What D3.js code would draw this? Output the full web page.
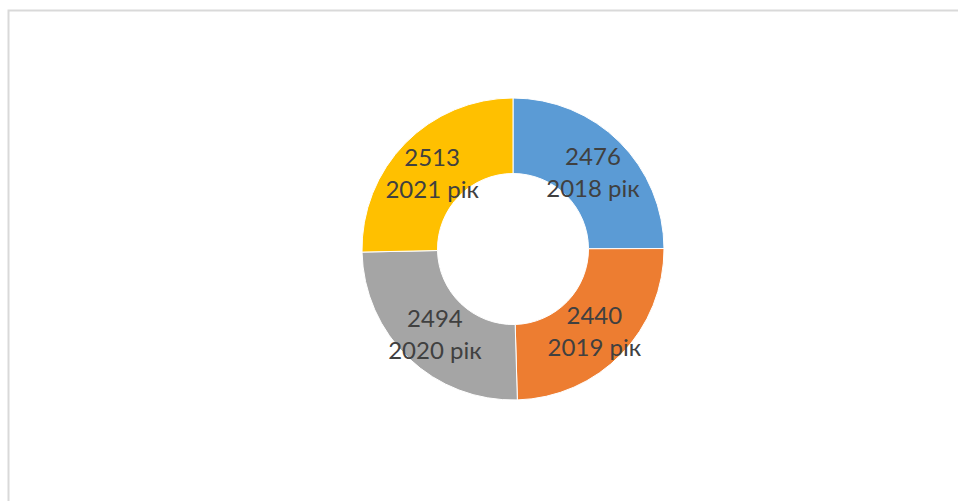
<!DOCTYPE html>
<html>
<head>
<meta charset="utf-8">
<script src="https://cdn.jsdelivr.net/npm/d3@7"></script>
<style>
  html, body { margin: 0; padding: 0; background: #fff; }
  svg { display: block; }
</style>
</head>
<body>
<svg id="chart" width="958" height="501"></svg>
<script>
// Кільцева діаграма: значення за роками
const years = ["2018 рік", "2019 рік", "2020 рік", "2021 рік"];
const values = [2476, 2440, 2494, 2513];
const colors = ["#5B9BD5", "#ED7D31", "#A5A5A5", "#FFC000"];

const svg = d3.select("#chart");

// chart area frame
svg.append("rect")
  .attr("x", 8.5).attr("y", 10.5)
  .attr("width", 1000).attr("height", 600)
  .attr("fill", "#fff")
  .attr("stroke", "#d9d9d9")
  .attr("stroke-width", 2);

const cx = 513, cy = 249, outerR = 151, innerR = 75.5;

const data = years.map((y, i) => ({ year: y, value: values[i], color: colors[i] }));

const pie = d3.pie().value(d => d.value).sort(null);
const arc = d3.arc().innerRadius(innerR).outerRadius(outerR);

const g = svg.append("g").attr("transform", `translate(${cx},${cy})`);

const slices = g.selectAll("g.slice").data(pie(data)).join("g").attr("class", "slice");

slices.append("path")
  .attr("d", arc)
  .attr("fill", d => d.data.color)
  .attr("stroke", "#fff")
  .attr("stroke-width", 1);

// two-line labels at each slice centroid: value, then year
const labels = slices.append("text")
  .attr("transform", d => `translate(${arc.centroid(d)})`)
  .attr("text-anchor", "middle")
  .attr("font-family", "Lato, 'Open Sans', sans-serif")
  .attr("font-size", 24)
  .attr("fill", "#404040");

labels.append("tspan")
  .attr("x", 0).attr("y", -4)
  .text(d => d.data.value);
labels.append("tspan")
  .attr("x", 0).attr("y", 28)
  .text(d => d.data.year);
</script>
</body>
</html>
